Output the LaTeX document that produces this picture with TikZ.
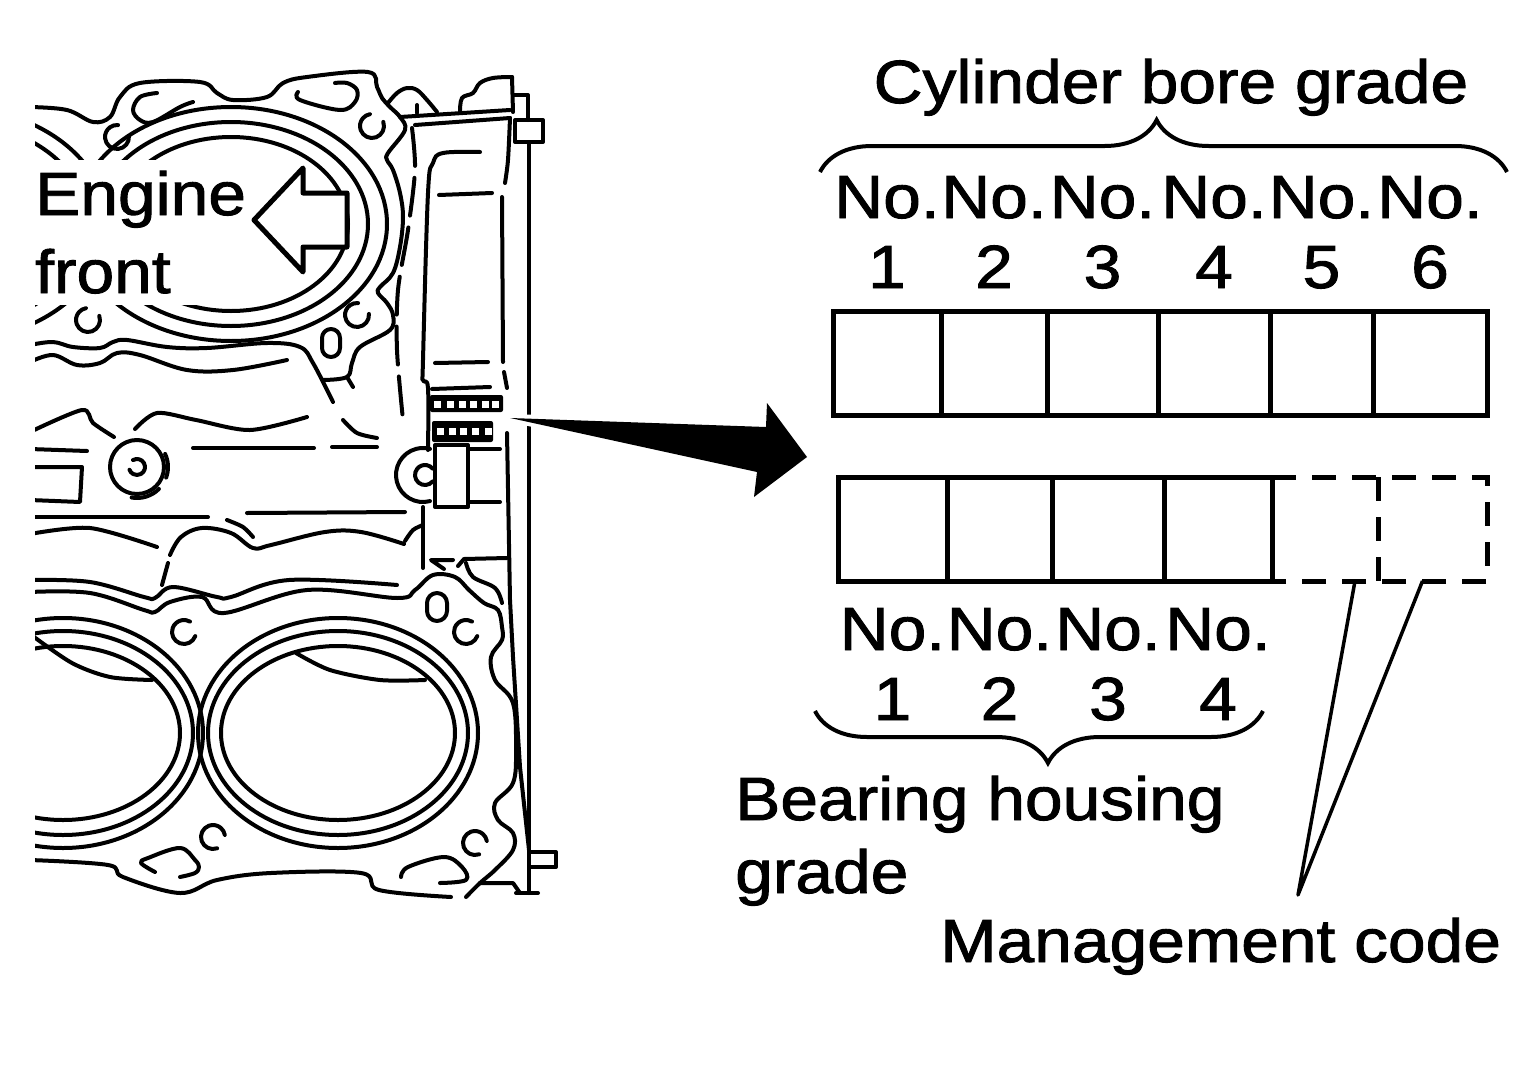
\documentclass[tikz,border=0pt]{standalone}
\usepackage{fontspec}
\newfontfamily\gradefont[FakeStretch=1.11, FakeBold=1.5]{Liberation Sans}
\usetikzlibrary{decorations.pathreplacing}

\tikzset{
  ln/.style={line width=4pt, line cap=round, line join=round},
  dsh/.style={ln, dash pattern=on 38pt off 12pt},
  cell/.style={draw, line width=5pt, minimum height=104pt, inner sep=0pt, outer sep=0pt},
  lbl/.style={font={\gradefont\fontsize{61}{72}\selectfont}, inner sep=0pt, anchor=base},
  brc/.style={line width=4pt, decorate, decoration={brace, amplitude=52pt}},
}

\begin{document}
\begin{tikzpicture}[x=1pt, y=-1pt]
  \useasboundingbox (0,0) rectangle (1535,1087);

  % engine block, cut at the left
  \begin{scope}
    \clip (35,0) rectangle (600,1087);
    % bores
    \foreach \bx in {-49,231} {
      \draw[ln] (\bx,224) ellipse[x radius=117, y radius=87];
      \draw[ln] (\bx,224) ellipse[x radius=137, y radius=102];
      \draw[ln] (\bx,224) ellipse[x radius=156, y radius=117];
    }
    \foreach \bx in {63,338} {
      \draw[ln] (\bx,733) ellipse[x radius=117, y radius=87];
      \draw[ln] (\bx,733) ellipse[x radius=130, y radius=102];
      \draw[ln] (\bx,733) ellipse[x radius=140, y radius=115];
    }
    \draw[ln] plot[smooth] coordinates {(296,653) (330,670) (380,680) (425,680)};
    \draw[ln] plot[smooth] coordinates {(30,634) (72,663) (110,677) (152,680)};
    % gasket, upper bank
    \draw[ln] plot[smooth, tension=.6] coordinates {(30,107) (67,110) (93,122) (110,117)
      (120,97) (140,83) (200,82) (217,93) (233,100) (267,97) (283,83) (307,77) (368,72)
      (377,87) (382,98) (390,107) (400,117) (405,130) (388,153) (387,160) (393,170)
      (400,193) (403,217) (400,247) (393,273) (380,287) (378,293) (387,303) (393,315)
      (390,330) (360,347) (352,363) (347,377) (323,380)};
    \draw[ln] (347,377) -- (353,387);
    \draw[ln] plot[smooth, tension=.6] coordinates {(30,345) (53,342) (73,347) (100,348)
      (113,342) (127,340) (167,347) (207,348) (267,343) (300,347) (313,363) (333,402)};
    \draw[ln] plot[smooth, tension=.6] coordinates {(30,362) (53,355) (77,365) (100,363)
      (117,353) (140,355) (187,370) (233,370) (287,360)};
    \draw[ln] plot[smooth, tension=.6] coordinates {(193,102) (180,107) (153,122) (140,120)
      (133,110) (140,97) (157,93)};
    \draw[ln] plot[smooth, tension=.6] coordinates {(298,92) (300,100) (340,110) (355,102)
      (357,90) (347,83) (335,83)};
    \draw[ln, rounded corners=9pt] (322,329) rectangle (340,357);
    % bolt holes
    \foreach \cx/\cy/\g in {117/137/-45, 372/126/-60, 88/320/-60, 357/315/-45,
                           184/632/-20, 466/632/-20, 213/837/30, 475/843/30}
      \draw[ln] (\cx,\cy) ++(\g+40:12) arc[start angle=\g+40, delta angle=280, radius=12];
    % crankcase
    \draw[ln] plot[smooth] coordinates {(30,432) (82,410) (93,423) (114,437)};
    \draw[ln] plot[smooth] coordinates {(135,429) (157,413) (196,420) (250,430) (307,417)};
    \draw[ln] plot[smooth] coordinates {(343,420) (357,433) (377,438)};
    \draw[ln] (332,447) -- (377,447);
    \draw[ln] (193,448) -- (314,448);
    \draw[ln] (30,449) -- (87,451);
    \draw[ln] (30,467) -- (82,467) -- (80,502) -- (30,500);
    \draw[ln] (30,517) -- (208,517);
    \draw[ln] (247,513) -- (405,512);
    \draw[ln] plot[smooth] coordinates {(30,534) (90,528) (157,547)};
    \draw[ln] plot[smooth, tension=.6] coordinates {(170,555) (181,537) (202,528) (231,533)
      (253,548) (271,545) (325,532) (361,532) (404,544)};
    \draw[ln] plot[smooth] coordinates {(227,520) (243,527) (253,537)};
    \draw[ln] (168,563) -- (162,585);
    \draw[ln] plot[smooth] coordinates {(405,541) (413,530) (423,525)};
    \draw[ln] (137,467) circle[radius=27];
    \draw[ln] (137,467) ++(-25:31) arc[start angle=-25, end angle=20, radius=31];
    \draw[ln] (137,467) ++(45:31) arc[start angle=45, end angle=100, radius=31];
    \draw[ln] (137,467) ++(240:8) arc[start angle=240, delta angle=280, radius=8];
    % gasket, lower bank
    \draw[ln] plot[smooth, tension=.6] coordinates {(30,580) (90,582) (144,597) (155,598)
      (173,587) (217,597) (231,597) (289,580) (397,585)};
    \draw[ln] plot[smooth, tension=.6] coordinates {(30,592) (90,593) (144,610) (155,612)
      (170,602) (202,597) (224,613) (307,590) (397,598) (415,590) (433,575) (455,577)
      (469,590) (484,603) (498,610) (502,627) (502,640) (491,657) (495,680) (513,703)
      (516,750) (513,783) (495,803) (498,820) (513,833) (513,850) (495,870) (480,883)
      (466,897)};
    \draw[ln] plot[smooth, tension=.6] coordinates {(30,860) (108,865) (123,877) (180,893)
      (217,880) (271,873) (361,873) (379,890) (451,897)};
    \draw[ln] plot[smooth, tension=.6] coordinates {(466,563) (473,577) (495,588) (502,603)};
    \draw[ln, rounded corners=10pt] (427,593) rectangle (447,621);
    \draw[ln] plot[smooth, tension=.6] coordinates {(155,872) (141,863) (148,858) (180,848)
      (195,860) (199,867) (195,873) (180,877)};
    \draw[ln] plot[smooth, tension=.6] coordinates {(401,877) (408,867) (444,857) (462,867)
      (466,880) (440,883)};
    % rail and plate
    \draw[ln] (400,117) -- (510,110);
    \draw[ln] (415,125) -- (510,118);
    \draw[ln] plot[smooth, tension=.6] coordinates {(388,103) (397,93) (407,88) (417,90)
      (427,100) (437,112)};
    \draw[ln] (417,105) -- (417,113);
    \draw[ln] plot[smooth, tension=.6] coordinates {(460,112) (462,98) (473,93) (480,83)
      (493,78) (512,77)};
    \draw[ln] (512,77) -- (513,112);
    \draw[ln] (513,95) -- (528,95) -- (528,120);
    \draw[ln] (515,120) rectangle (543,142);
    \draw[ln] (529,142) -- (529,893);
    \draw[ln] (529,852) -- (556,852) -- (556,867) -- (531,867);
    \draw[ln] (516,893) -- (538,893);
    \draw[ln] (480,883) -- (513,883) -- (520,893);
    \draw[ln] plot[smooth] coordinates {(510,118) (508,160) (505,183)};
    \draw[ln] (502,197) -- (503,362);
    \draw[ln] (504,372) -- (507,388);
    \draw[ln] (507,433) -- (510,600) -- (513,657) -- (520,767) -- (529,850);
    \draw[ln] plot[smooth, tension=.6] coordinates {(480,152) (443,153) (433,163) (428,193)
      (423,360) (423,380) (428,388) (428,450)};
    \draw[ln] (423,507) -- (423,568);
    \draw[ln] (439,195) -- (492,193);
    \draw[ln] (435,363) -- (488,362);
    \draw[ln] (432,389) -- (490,387);
    \draw[ln] (453,560) -- (431,560) -- (444,569);
    \draw[ln] (458,566) -- (464,559) -- (507,558);
    \draw[ln] (423,475) ++(75:27) arc[start angle=75, end angle=285, radius=27];
    \draw[ln] (425,475) ++(40:10) arc[start angle=40, delta angle=280, radius=10];
    \draw[ln, fill=white] (435,445) rectangle (468,507);
    \draw[ln] (468,449) -- (500,449);
    \draw[ln] (468,502) -- (500,502);
    \draw[dsh] plot[smooth] coordinates {(412,128) (415,170) (408,230) (398,290) (397,350)
      (403,420)};
    % stamped marks
    \node[fill=black, minimum width=73pt, minimum height=17pt, inner sep=0pt,
      rounded corners=2pt] (idmark) at (466.5,403.5) {};
    \foreach \sx in {437,450,462,473,485,495}
      \fill[white] ({\sx-3.5},400.5) rectangle ({\sx+3.5},407.5);
    \node[fill=black, minimum width=61pt, minimum height=21pt, inner sep=0pt,
      rounded corners=2pt] (idmark2) at (462.5,431.5) {};
    \foreach \sx in {440,452,463,475,488}
      \fill[white] ({\sx-3.5},428) rectangle ({\sx+3.5},435);
  \end{scope}

  % engine front
  \fill[white] (27,160) rectangle (250,305);
  \node[lbl, anchor=base west] (eng) at (35,215) {Engine};
  \node[lbl, anchor=base west] (frt) at (35,293) {front};
  \draw[line width=5pt, line join=round, fill=white]
    (254,220) -- (303,168) -- (303,193) -- (347,193) -- (347,247) -- (303,247)
    -- (303,272) -- cycle;

  % pointer to the code boxes
  \coordinate (tail) at ([shift={(7,14.5)}]idmark.east);
  \coordinate (tip) at (807,457);
  \fill[preaction={draw=white, line width=8pt}] (tail) -- ([shift={(-41,-30)}]tip)
    -- ([shift={(-40,-54)}]tip) -- (tip) -- ([shift={(-53,40)}]tip)
    -- ([shift={(-50,15)}]tip) -- cycle;

  % cylinder bore grade
  \foreach \i/\xa/\xb in {1/833/941, 2/941/1047, 3/1047/1158, 4/1158/1270, 5/1270/1373, 6/1373/1487} {
    \node[cell, minimum width={(\xb-\xa)*1pt}] (c\i) at ({(\xa+\xb)/2},363) {};
    \node[lbl] at ([yshift=93pt]c\i.north) {No.};
    \node[lbl] at ([yshift=23pt]c\i.north) {\i};
  }
  \node[lbl] (cbg) at (1171,103) {Cylinder bore grade};
  \draw[brc, decoration={aspect=0.49}] (820,172) -- (1507,172);

  % bearing housing grade
  \foreach \i/\xa/\xb in {1/838/947, 2/947/1052, 3/1052/1164, 4/1164/1272} {
    \node[cell, minimum width={(\xb-\xa)*1pt}] (h\i) at ({(\xa+\xb)/2},529) {};
    \node[lbl] at ([yshift=-69pt]h\i.south) {No.};
    \node[lbl] at ([yshift=-139pt]h\i.south) {\i};
  }
  \draw[brc, decoration={aspect=0.48}] (1263,711) -- (815,711);
  \node[lbl, anchor=base west] (bhg) at (735,820) {Bearing housing};
  \node[lbl, anchor=base west] (bhg2) at (735,893) {grade};

  % management code
  \node[minimum width=106pt, minimum height=104pt, inner sep=0pt, outer sep=0pt] (m1) at (1325,529) {};
  \node[minimum width=109pt, minimum height=104pt, inner sep=0pt, outer sep=0pt] (m2) at (1432.5,529) {};
  \draw[line width=5pt, dash pattern=on 24pt off 16pt] (h4.north east) -- (m2.north east) -- (m2.south east) -- (h4.south east);
  \draw[line width=5pt, dash pattern=on 24pt off 16pt] (m1.north east) -- (m1.south east);
  \node[lbl, anchor=base west] (mgmt) at (940,962) {Management code};
  \coordinate (apex) at (1298,895);
  \draw[line width=3.5pt, line join=round] ([xshift=30pt]m1.south) -- (apex) -- ([xshift=-10pt]m2.south);
\end{tikzpicture}
\end{document}
